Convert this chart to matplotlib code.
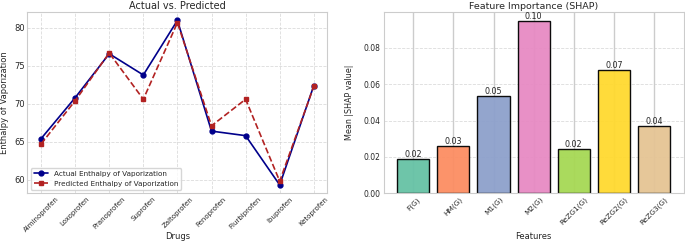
import numpy as np
import matplotlib.pyplot as plt
import seaborn as sns

sns.set_theme(style="whitegrid")
plt.rcParams['font.family'] = ['DejaVu Sans']

# data
drugs = ["Alminoprofen", "Loxoprofen", "Pranoprofen", "Suprofen", "Zaltoprofen",
         "Fenoprofen", "Flurbiprofen", "Ibuprofen", "Ketoprofen"]
actual = [65.4, 70.8, 76.6, 73.8, 81.0, 66.4, 65.8, 59.3, 72.4]
predicted = [64.7, 70.4, 76.7, 70.6, 80.7, 67.1, 70.6, 59.8, 72.3]

features = ["F(G)", "HM(G)", "M1(G)", "M2(G)", "ReZG1(G)", "ReZG2(G)", "ReZG3(G)"]
shap_vals = [0.019, 0.026, 0.0535, 0.095, 0.0243, 0.0677, 0.037]

fig = plt.figure(figsize=(6.85, 2.43), dpi=100)

# 左图: actual vs predicted
ax1 = fig.add_axes([0.04, 0.205, 0.438, 0.745])
x = np.arange(len(drugs))
ax1.plot(x, actual, marker="o", color="darkblue", markersize=3.5, linewidth=1.2,
         label="Actual Enthalpy of Vaporization")
ax1.plot(x, predicted, marker="s", linestyle="--", color="firebrick", markersize=3.5,
         linewidth=1.2, label="Predicted Enthalpy of Vaporization")
ax1.set_xticks(x)
ax1.set_xticklabels(drugs, rotation=45, fontsize=5)
ax1.tick_params(axis="y", labelsize=6, pad=2, length=0)
ax1.tick_params(axis="x", pad=2, length=0)
ax1.set_title("Actual vs. Predicted", fontsize=7, pad=2)
ax1.set_xlabel("Drugs", fontsize=6)
ax1.set_ylabel("Enthalpy of Vaporization", fontsize=6)
ax1.xaxis.set_label_coords(0.5, -0.215)
ax1.yaxis.set_label_coords(-0.06, 0.5)
ax1.grid(True, linestyle="--", alpha=0.7, linewidth=0.6)
ax1.legend(loc="lower left", fontsize=5.2, frameon=True)
for s in ax1.spines.values():
    s.set_linewidth(0.8)

# 右图: SHAP feature importance
ax2 = fig.add_axes([0.56, 0.205, 0.438, 0.745])
colors = sns.color_palette("Set2", len(features))
bars = ax2.bar(features, shap_vals, color=colors, edgecolor="black", linewidth=1.0, alpha=0.95)
for b in bars:
    h = b.get_height()
    ax2.text(b.get_x() + b.get_width() / 2, h, f"{h:.2f}", ha="center", va="bottom", fontsize=5.8)
ax2.set_title("Feature Importance (SHAP)", fontsize=6.8, pad=2)
ax2.set_xlabel("Features", fontsize=6)
ax2.set_ylabel("Mean |SHAP value|", fontsize=5.8)
ax2.xaxis.set_label_coords(0.5, -0.215)
ax2.yaxis.set_label_coords(-0.1, 0.5)
ax2.tick_params(axis="x", rotation=45, labelsize=5.3, pad=2, length=0)
ax2.tick_params(axis="y", labelsize=5.5, pad=2, length=0)
ax2.grid(axis="y", linestyle="--", alpha=0.7, linewidth=0.6)
for s in ax2.spines.values():
    s.set_linewidth(0.8)

fig.savefig("out.png", dpi=100)
